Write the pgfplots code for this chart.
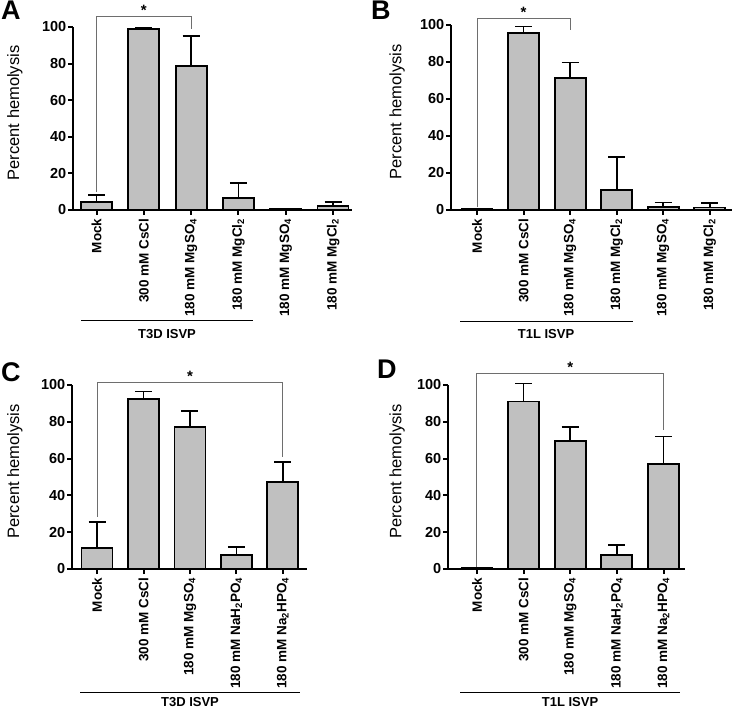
\documentclass[border=0pt]{standalone}
\usepackage{pgfplots}
\pgfplotsset{compat=1.18}
\usepackage{fontspec}
\setmainfont{Liberation Sans}
\definecolor{barfill}{RGB}{192,192,192}
\definecolor{brk}{RGB}{110,110,110}
\pgfplotsset{
  hemo/.style={
    scale only axis,
    anchor=south west,
    axis lines=left,
    axis line style={-, line width=2.6pt},
    ymin=0, ymax=100,
    ytick={0,20,40,60,80,100},
    xtick={0,1,2,3,4,5},
    tick align=outside,
    major tick length=5pt,
    every tick/.style={black, line width=2pt},
    /pgf/number format/assume math mode=true,
    ticklabel style={font=\bfseries\fontsize{13.5}{13.5}\selectfont},
    yticklabel style={font=\bfseries\fontsize{14.5}{14.5}\selectfont, inner sep=1.5pt},
    xticklabel style={rotate=90, anchor=east},
    ylabel={Percent hemolysis},
    clip=false,
    ybar, bar width=31pt,
  },
  hbar/.style={fill=barfill, draw=black, line width=1.8pt,
    error bars/.cd, y dir=plus, y explicit,
    error bar style={line width=1.8pt, black},
    error mark options={rotate=90, mark size=8.5pt, line width=1.8pt, black}},
}
\tikzset{
  brkline/.style={brk, line width=0.9pt},
  star/.style={anchor=south, inner sep=0pt, font=\bfseries\fontsize{15}{15}\selectfont},
  grp/.style={anchor=base, inner sep=0pt, font=\bfseries\fontsize{13}{13}\selectfont},
  letter/.style={anchor=base west, inner sep=0pt, font=\bfseries\fontsize{27}{27}\selectfont},
  ylab/.style={font=\fontsize{16.5}{16.5}\selectfont, anchor=center},
}
\begin{document}
\begin{tikzpicture}
\useasboundingbox (0pt,0pt) rectangle (733pt,-708pt);

% Panel A
\begin{axis}[hemo, at={(73pt,-210pt)}, width=279pt, height=183pt,
  xmin=-0.497, xmax=5.40,
  ylabel style={ylab, at={(axis description cs:-0.208,0.53)}},
  xticklabels={Mock, 300 mM CsCl, 180 mM MgSO\textsubscript{4}, 180 mM MgCl\textsubscript{2}, 180 mM MgSO\textsubscript{4}, 180 mM MgCl\textsubscript{2}}]
\addplot[hbar] coordinates {(0,4.5) +- (0,3.6) (1,98.8) +- (0,0.8) (2,78.6) +- (0,16.5) (3,6.4) +- (0,8.5) (4,0.5) +- (0,0.3) (5,2.3) +- (0,2.2)};
\draw[brkline] (axis cs:0,9.8) |- (axis cs:2,106) -- (axis cs:2,99);
\node[star] at (axis cs:1,106) {*};
\end{axis}

% Panel B
\begin{axis}[hemo, at={(451pt,-210pt)}, width=281pt, height=185pt,
  xmin=-0.56, xmax=5.48,
  ylabel style={ylab, at={(axis description cs:-0.192,0.53)}},
  xticklabels={Mock, 300 mM CsCl, 180 mM MgSO\textsubscript{4}, 180 mM MgCl\textsubscript{2}, 180 mM MgSO\textsubscript{4}, 180 mM MgCl\textsubscript{2}}]
\addplot[hbar] coordinates {(0,0.5) +- (0,0.3) (1,95.8) +- (0,3.4) (2,71.3) +- (0,8.4) (3,10.8) +- (0,17.7) (4,1.8) +- (0,2.2) (5,1.3) +- (0,2.3)};
\draw[brkline] (axis cs:0,1.6) |- (axis cs:2,103.8) -- (axis cs:2,97.3);
\node[star] at (axis cs:1,103.8) {*};
\end{axis}

% Panel C
\begin{axis}[hemo, at={(72pt,-569pt)}, width=235pt, height=184pt,
  xmin=-0.54, xmax=4.52,
  ylabel style={ylab, at={(axis description cs:-0.243,0.53)}},
  xtick={0,1,2,3,4},
  xticklabels={Mock, 300 mM CsCl, 180 mM MgSO\textsubscript{4}, 180 mM NaH\textsubscript{2}PO\textsubscript{4}, 180 mM Na\textsubscript{2}HPO\textsubscript{4}}]
\addplot[hbar] coordinates {(0,11.4) +- (0,14.1) (1,92.3) +- (0,4.2) (2,77.2) +- (0,8.7) (3,7.8) +- (0,4.1) (4,47.3) +- (0,10.7)};
\draw[brkline] (axis cs:0,28.3) |- (axis cs:4,101.6) -- (axis cs:4,61);
\node[star] at (axis cs:2,101.6) {*};
\end{axis}

% Panel D
\begin{axis}[hemo, at={(448pt,-569pt)}, width=237pt, height=184pt,
  xmin=-0.62, xmax=4.46,
  ylabel style={ylab, at={(axis description cs:-0.215,0.53)}},
  xtick={0,1,2,3,4},
  xticklabels={Mock, 300 mM CsCl, 180 mM MgSO\textsubscript{4}, 180 mM NaH\textsubscript{2}PO\textsubscript{4}, 180 mM Na\textsubscript{2}HPO\textsubscript{4}}]
\addplot[hbar] coordinates {(0,0.5) +- (0,0.3) (1,91.0) +- (0,9.8) (2,69.6) +- (0,7.6) (3,7.8) +- (0,5.1) (4,57.2) +- (0,14.8)};
\draw[brkline] (axis cs:0,1) |- (axis cs:4,106.5) -- (axis cs:4,75.5);
\node[star] at (axis cs:2,106.5) {*};
\end{axis}

% group underlines and labels
\draw[line width=1pt] (81pt,-321pt) -- (253pt,-321pt);
\node[grp] at (167pt,-338pt) {T3D ISVP};
\draw[line width=1pt] (460pt,-322pt) -- (633pt,-322pt);
\node[grp] at (546pt,-338pt) {T1L ISVP};
\draw[line width=1pt] (80pt,-692pt) -- (300pt,-692pt);
\node[grp] at (190pt,-706.5pt) {T3D ISVP};
\draw[line width=1pt] (460pt,-692pt) -- (680pt,-692pt);
\node[grp] at (570pt,-706.5pt) {T1L ISVP};

% panel letters
\node[letter] at (1pt,-20pt) {A};
\node[letter] at (371pt,-20pt) {B};
\node[letter] at (1pt,-381pt) {C};
\node[letter] at (377pt,-378pt) {D};
\end{tikzpicture}
\end{document}
